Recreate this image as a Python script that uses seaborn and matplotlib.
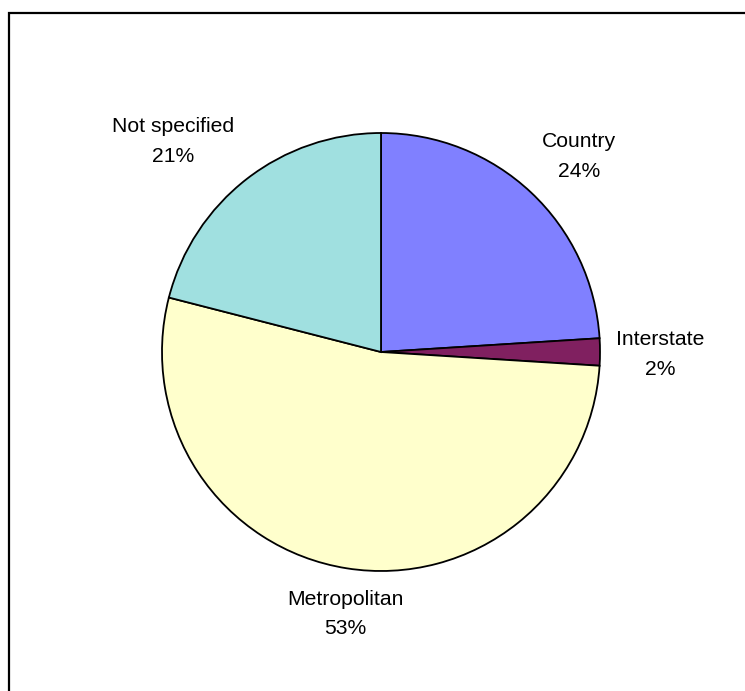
import matplotlib
matplotlib.use("Agg")
import matplotlib.pyplot as plt
import seaborn as sns

# Share of records by location (percent)
categories = ["Country", "Interstate", "Metropolitan", "Not specified"]
shares = [24, 2, 53, 21]
share_labels = ["24%", "2%", "53%", "21%"]
slice_colors = ["#8080FF", "#802060", "#FFFFCC", "#A0E0E0"]

sns.set_theme(style="white")
plt.rcParams["font.family"] = ["Liberation Sans", "DejaVu Sans"]

W, H = 745, 691
fig = plt.figure(figsize=(W / 100, H / 100), dpi=100)
ax = fig.add_axes([0, 0, 1, 1])

palette = sns.color_palette(slice_colors)

# Pie in pixel-like data units (y measured upward from the bottom)
cx, cy, r = 381, H - 352, 219
ax.pie(
    shares,
    colors=palette,
    startangle=90,
    counterclock=False,
    center=(cx, cy),
    radius=r,
    wedgeprops=dict(edgecolor="black", linewidth=1.3),
)
ax.set_xlim(0, W)
ax.set_ylim(0, H)
ax.set_aspect("auto")
ax.axis("off")

# Category name and percentage, placed outside each slice (x, baseline y in pixels from top)
label_pos = {
    "Country": (579, 147),
    "Interstate": (660, 345),
    "Metropolitan": (345, 605),
    "Not specified": (173, 132),
}
for name, pct in zip(categories, share_labels):
    x, y = label_pos[name]
    ax.text(x, H - y, name, ha="center", va="baseline", fontsize=15.2, color="black")
    ax.text(x, H - y - 29.5, pct, ha="center", va="baseline", fontsize=15.2, color="black")

# Chart area border (top and left edges fall inside the image)
ax.plot([9, 9, W + 5], [-5, H - 13, H - 13], color="black", linewidth=1.6,
        clip_on=False, solid_joinstyle="miter")

fig.savefig("out.png", dpi=100, facecolor="white")
